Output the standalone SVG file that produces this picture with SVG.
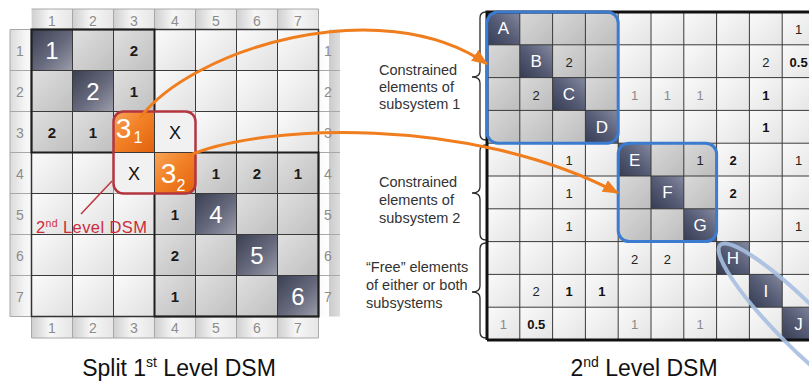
<svg xmlns="http://www.w3.org/2000/svg" width="809" height="382" viewBox="0 0 809 382">
<style>
text{font-family:"Liberation Sans",Arial,sans-serif}
.hn{font-size:14px;fill:#8c8c8c;text-anchor:middle}
.bn{font-size:15px;font-weight:bold;fill:#1a1a1a;text-anchor:middle}
.dn{font-size:24px;fill:#ffffff;text-anchor:middle}
.xn{font-size:18px;fill:#111;text-anchor:middle}
.on{fill:#fff;text-anchor:middle}
.rn{font-size:13px;fill:#222;text-anchor:middle}
.rb{font-size:13px;font-weight:bold;fill:#111;text-anchor:middle}
.rg{font-size:13px;fill:#8a8a8a;text-anchor:middle}
.rl{font-size:17px;fill:#fff;text-anchor:middle}
.lab{font-size:14.5px;fill:#333}
.cap{font-size:23px;fill:#111;text-anchor:middle}
.grid{fill:none;stroke:#3a3a3a;stroke-width:1}
.hgrid{fill:none;stroke:#a8a8a8;stroke-width:1}
.blk{fill:none;stroke:#1e1e1e;stroke-width:2}
.brace{fill:none;stroke:#2a2a2a;stroke-width:1.3}
.arr{fill:none;stroke:#f07d1e;stroke-width:3}
.blue{fill:none;stroke:#3b7bd0;stroke-width:3}
</style>
<defs>
<linearGradient id="gLight" x1="0" y1="0" x2="1" y2="1"><stop offset="0" stop-color="#fbfbfb"/><stop offset="1" stop-color="#e0e0e0"/></linearGradient>
<linearGradient id="gGray" x1="0" y1="0" x2="1" y2="1"><stop offset="0" stop-color="#e0e0e0"/><stop offset="1" stop-color="#bfbfbf"/></linearGradient>
<linearGradient id="gDark" x1="0" y1="0" x2="1" y2="1"><stop offset="0" stop-color="#3b3f52"/><stop offset="0.55" stop-color="#676a7d"/><stop offset="1" stop-color="#9c9eab"/></linearGradient>
<linearGradient id="gDarkR" x1="1" y1="0" x2="0" y2="1"><stop offset="0" stop-color="#858aa0"/><stop offset="0.5" stop-color="#565c75"/><stop offset="1" stop-color="#363c52"/></linearGradient>
<linearGradient id="gOrange" x1="0" y1="0" x2="1" y2="1"><stop offset="0" stop-color="#f8a55a"/><stop offset="0.45" stop-color="#f28126"/><stop offset="1" stop-color="#e0620e"/></linearGradient>
<linearGradient id="gHdrH" x1="0" y1="0" x2="1" y2="0"><stop offset="0" stop-color="#cfcfcf"/><stop offset="0.45" stop-color="#f6f6f6"/><stop offset="1" stop-color="#e6e6e6"/></linearGradient>
<linearGradient id="gHdrV" x1="0" y1="0" x2="1" y2="0"><stop offset="0" stop-color="#c9c9c9"/><stop offset="0.6" stop-color="#f4f4f4"/><stop offset="1" stop-color="#ffffff"/></linearGradient>
<linearGradient id="gRLight" x1="0" y1="0" x2="1" y2="1"><stop offset="0" stop-color="#fafafa"/><stop offset="1" stop-color="#e4e4e4"/></linearGradient>
<linearGradient id="gRGray" x1="0" y1="0" x2="1" y2="1"><stop offset="0" stop-color="#d9d9d9"/><stop offset="1" stop-color="#bcbcbc"/></linearGradient>
<pattern id="pL" patternUnits="userSpaceOnUse" x="31.5" y="29.5" width="41" height="41"><rect width="41" height="41" fill="url(#gLight)"/></pattern>
<pattern id="pG" patternUnits="userSpaceOnUse" x="31.5" y="29.5" width="41" height="41"><rect width="41" height="41" fill="url(#gGray)"/></pattern>
<pattern id="pHH" patternUnits="userSpaceOnUse" x="31.5" y="0" width="41" height="41"><rect width="41" height="41" fill="url(#gHdrH)"/></pattern>
<pattern id="pHV" patternUnits="userSpaceOnUse" x="0" y="29.5" width="41" height="41"><rect width="41" height="41" fill="url(#gHdrV)"/></pattern>
<pattern id="pRL" patternUnits="userSpaceOnUse" x="487" y="12" width="32.8" height="32.8"><rect width="32.8" height="32.8" fill="url(#gRLight)"/></pattern>
<pattern id="pRG" patternUnits="userSpaceOnUse" x="487" y="12" width="32.8" height="32.8"><rect width="32.8" height="32.8" fill="url(#gRGray)"/></pattern>
<marker id="ah" markerUnits="userSpaceOnUse" markerWidth="16" markerHeight="13" refX="15" refY="6.5" orient="auto"><path d="M0,0 L16,6.5 L0,13 Z" fill="#f07d1e"/></marker>
</defs>

<g id="left-dsm">
  <g id="left-headers">
    <rect x="31.5" y="9" width="287" height="20.5" fill="url(#pHH)"/>
    <rect x="31.5" y="316.5" width="287" height="21.5" fill="url(#pHH)"/>
    <rect x="10" y="29.5" width="21.5" height="287" fill="url(#pHV)"/>
    <rect x="318.5" y="29.5" width="21.5" height="287" fill="url(#pHV)"/>
    <path class="hgrid" d="M31.5,9H318.5M72.5,9V29.5M113.5,9V29.5M154.5,9V29.5M195.5,9V29.5M236.5,9V29.5M277.5,9V29.5M318.5,9V29.5
      M72.5,316.5V338M113.5,316.5V338M154.5,316.5V338M195.5,316.5V338M236.5,316.5V338M277.5,316.5V338M31.5,316.5V338M318.5,316.5V338M31.5,338H318.5
      M10,29.5V316.5M10,29.5H31.5M10,70.5H31.5M10,111.5H31.5M10,152.5H31.5M10,193.5H31.5M10,234.5H31.5M10,275.5H31.5M10,316.5H31.5
      M318.5,70.5H340M318.5,111.5H340M318.5,152.5H340M318.5,193.5H340M318.5,234.5H340M318.5,275.5H340"/>
    <g class="hn">
      <text x="52" y="26">1</text><text x="93" y="26">2</text><text x="134" y="26">3</text><text x="175" y="26">4</text><text x="216" y="26">5</text><text x="257" y="26">6</text><text x="298" y="26">7</text>
      <text x="52" y="333">1</text><text x="93" y="333">2</text><text x="134" y="333">3</text><text x="175" y="333">4</text><text x="216" y="333">5</text><text x="257" y="333">6</text><text x="298" y="333">7</text>
      <text x="20" y="56">1</text><text x="20" y="97">2</text><text x="20" y="138">3</text><text x="20" y="179">4</text><text x="20" y="220">5</text><text x="20" y="261">6</text><text x="20" y="302">7</text>
      <text x="328" y="56">1</text><text x="328" y="97">2</text><text x="328" y="138">3</text><text x="328" y="179">4</text><text x="328" y="220">5</text><text x="328" y="261">6</text><text x="328" y="302">7</text>
    </g>
  </g>
  <g id="left-cells">
    <rect x="31.5" y="29.5" width="287" height="287" fill="url(#pL)"/>
    <rect x="31.5" y="29.5" width="123" height="123" fill="url(#pG)"/>
    <rect x="154.5" y="152.5" width="164" height="164" fill="url(#pG)"/>
    <rect x="31.5" y="29.5" width="41" height="41" fill="url(#gDark)"/>
    <rect x="72.5" y="70.5" width="41" height="41" fill="url(#gDark)"/>
    <rect x="195.5" y="193.5" width="41" height="41" fill="url(#gDark)"/>
    <rect x="236.5" y="234.5" width="41" height="41" fill="url(#gDark)"/>
    <rect x="277.5" y="275.5" width="41" height="41" fill="url(#gDark)"/>
    <path class="grid" d="M72.5,29.5V316.5M113.5,29.5V316.5M154.5,29.5V316.5M195.5,29.5V316.5M236.5,29.5V316.5M277.5,29.5V316.5
      M31.5,70.5H318.5M31.5,111.5H318.5M31.5,152.5H318.5M31.5,193.5H318.5M31.5,234.5H318.5M31.5,275.5H318.5"/>
    <rect x="31.5" y="29.5" width="287" height="287" fill="none" stroke="#333" stroke-width="1.5"/>
    <rect class="blk" x="31.5" y="29.5" width="123" height="123"/>
    <rect class="blk" x="154.5" y="152.5" width="164" height="164"/>
  </g>
  <g id="left-values">
    <text class="dn" x="52" y="59">1</text>
    <text class="dn" x="93" y="100">2</text>
    <text class="dn" x="216" y="223">4</text>
    <text class="dn" x="257" y="264">5</text>
    <text class="dn" x="298" y="305">6</text>
    <text class="bn" x="134" y="56">2</text>
    <text class="bn" x="134" y="97">1</text>
    <text class="bn" x="52" y="138">2</text>
    <text class="bn" x="93" y="138">1</text>
    <text class="bn" x="216" y="179">1</text>
    <text class="bn" x="257" y="179">2</text>
    <text class="bn" x="298" y="179">1</text>
    <text class="bn" x="175" y="220">1</text>
    <text class="bn" x="175" y="261">2</text>
    <text class="bn" x="175" y="302">1</text>
  </g>
  <g id="split-node">
    <rect x="154.5" y="111.5" width="41" height="41" fill="#f1f1f1"/>
    <rect x="113.5" y="152.5" width="41" height="41" fill="#f1f1f1"/>
    <path d="M113.5,152.5V121.5Q113.5,111.5 123.5,111.5H154.5V152.5Z" fill="url(#gOrange)"/>
    <path d="M154.5,152.5H195.5V183.5Q195.5,193.5 185.5,193.5H154.5Z" fill="url(#gOrange)"/>
    <path class="grid" d="M154.5,111.5V193.5M113.5,152.5H195.5"/>
    <text class="on" x="123.5" y="138" font-size="28">3</text>
    <text class="on" x="138" y="143" font-size="16">1</text>
    <text class="on" x="168.5" y="183" font-size="28">3</text>
    <text class="on" x="181" y="191" font-size="16">2</text>
    <text class="xn" x="175" y="139">X</text>
    <text class="xn" x="134" y="180">X</text>
    <rect x="113.5" y="111.5" width="82" height="82" rx="10" fill="none" stroke="#b3363f" stroke-width="2.5"/>
  </g>
  <g id="second-level-label">
    <text x="36" y="233" font-size="16.5" fill="#cc2b3b" letter-spacing="0.4">2<tspan font-size="10.5" dy="-6">nd</tspan><tspan dy="6"> Level DSM</tspan></text>
  </g>
</g>

<g id="right-dsm">
  <g id="right-cells">
    <rect x="487" y="12" width="328" height="328" fill="url(#pRL)"/>
    <rect x="487" y="12" width="131.2" height="131.2" fill="url(#pRG)"/>
    <rect x="618.2" y="143.2" width="98.4" height="98.4" fill="url(#pRG)"/>
    <rect x="487" y="12" width="32.8" height="32.8" fill="url(#gDarkR)"/>
    <rect x="519.8" y="44.8" width="32.8" height="32.8" fill="url(#gDarkR)"/>
    <rect x="552.6" y="77.6" width="32.8" height="32.8" fill="url(#gDarkR)"/>
    <rect x="585.4" y="110.4" width="32.8" height="32.8" fill="url(#gDarkR)"/>
    <rect x="618.2" y="143.2" width="32.8" height="32.8" fill="url(#gDarkR)"/>
    <rect x="651" y="176" width="32.8" height="32.8" fill="url(#gDarkR)"/>
    <rect x="683.8" y="208.8" width="32.8" height="32.8" fill="url(#gDarkR)"/>
    <rect x="716.6" y="241.6" width="32.8" height="32.8" fill="url(#gDarkR)"/>
    <rect x="749.4" y="274.4" width="32.8" height="32.8" fill="url(#gDarkR)"/>
    <rect x="782.2" y="307.2" width="32.8" height="32.8" fill="url(#gDarkR)"/>
    <path class="grid" stroke="#4a4a4a" d="M519.8,12V340M552.6,12V340M585.4,12V340M618.2,12V340M651,12V340M683.8,12V340M716.6,12V340M749.4,12V340M782.2,12V340
      M487,44.8H809M487,77.6H809M487,110.4H809M487,143.2H809M487,176H809M487,208.8H809M487,241.6H809M487,274.4H809M487,307.2H809"/>
    <path d="M487,340V12H809M487,340H809" fill="none" stroke="#111" stroke-width="3"/>
  </g>
  <g id="right-values">
    <text class="rl" x="503.4" y="34.4">A</text>
    <text class="rl" x="536.2" y="67.2">B</text>
    <text class="rl" x="569" y="100">C</text>
    <text class="rl" x="601.8" y="132.8">D</text>
    <text class="rl" x="634.6" y="165.6">E</text>
    <text class="rl" x="667.4" y="198.4">F</text>
    <text class="rl" x="700.2" y="231.2">G</text>
    <text class="rl" x="733" y="264">H</text>
    <text class="rl" x="765.8" y="296.8">I</text>
    <text class="rl" x="798.6" y="329.6">J</text>
    <text class="rn" x="798.6" y="33.9">1</text>
    <text class="rn" x="569" y="66.7">2</text>
    <text class="rn" x="765.8" y="66.7">2</text>
    <text class="rb" x="798.6" y="66.7">0.5</text>
    <text class="rn" x="536.2" y="99.5">2</text>
    <text class="rg" x="634.6" y="99.5">1</text>
    <text class="rg" x="667.4" y="99.5">1</text>
    <text class="rg" x="700.2" y="99.5">1</text>
    <text class="rb" x="765.8" y="99.5">1</text>
    <text class="rb" x="765.8" y="132.3">1</text>
    <text class="rn" x="569" y="165.1">1</text>
    <text class="rn" x="700.2" y="165.1">1</text>
    <text class="rb" x="733" y="165.1">2</text>
    <text class="rn" x="798.6" y="165.1">1</text>
    <text class="rn" x="569" y="197.9">1</text>
    <text class="rb" x="733" y="197.9">2</text>
    <text class="rn" x="569" y="230.7">1</text>
    <text class="rn" x="798.6" y="230.7">1</text>
    <text class="rn" x="634.6" y="263.5">2</text>
    <text class="rn" x="667.4" y="263.5">2</text>
    <text class="rn" x="536.2" y="296.3">2</text>
    <text class="rb" x="569" y="296.3">1</text>
    <text class="rb" x="601.8" y="296.3">1</text>
    <text class="rg" x="503.4" y="329.1">1</text>
    <text class="rb" x="536.2" y="329.1">0.5</text>
    <text class="rg" x="634.6" y="329.1">1</text>
    <text class="rg" x="700.2" y="329.1">1</text>
  </g>
  <g id="subsystem-1">
    <rect class="blue" x="487" y="12" width="131.2" height="131.2" rx="11"/>
  </g>
  <g id="subsystem-2">
    <rect class="blue" x="618.2" y="143.2" width="98.4" height="98.4" rx="11"/>
  </g>
  <g id="free-elements">
    <ellipse cx="800" cy="325" rx="113" ry="22" transform="rotate(45 800 325)" fill="none" stroke="#a6bfe0" stroke-width="4" opacity="0.9"/>
  </g>
</g>

<g id="braces">
  <path class="brace" d="M486,12Q480,12 480,18V71Q480,77 472,77Q480,77 480,83V134Q480,140 486,140"/>
  <path class="brace" d="M486,145Q480,145 480,151V187Q480,193 472,193Q480,193 480,199V234Q480,240 486,240"/>
  <path class="brace" d="M486,243Q480,243 480,249V286Q480,292 472,292Q480,292 480,298V332Q480,338 486,338"/>
</g>

<g id="labels">
  <text class="lab" x="379" y="75">Constrained</text>
  <text class="lab" x="379" y="92">elements of</text>
  <text class="lab" x="379" y="109">subsystem 1</text>
  <text class="lab" x="379" y="187">Constrained</text>
  <text class="lab" x="379" y="205">elements of</text>
  <text class="lab" x="379" y="223">subsystem 2</text>
  <text class="lab" x="366" y="272">“Free” elements</text>
  <text class="lab" x="366" y="290">of either or both</text>
  <text class="lab" x="366" y="308">subsystems</text>
</g>

<g id="connectors">
  <path class="arr" d="M140,118C190,50 380,-10 487,64" marker-end="url(#ah)"/>
  <path class="arr" d="M188,156C260,124 470,115 618,193" marker-end="url(#ah)"/>
  <path d="M81,214L112,181" fill="none" stroke="#c0343f" stroke-width="1.5"/>
</g>

<g id="captions">
  <text class="cap" x="179" y="376">Split 1<tspan font-size="14" dy="-9">st</tspan><tspan dy="9"> Level DSM</tspan></text>
  <text class="cap" x="644" y="376">2<tspan font-size="14" dy="-9">nd</tspan><tspan dy="9"> Level DSM</tspan></text>
</g>
</svg>
